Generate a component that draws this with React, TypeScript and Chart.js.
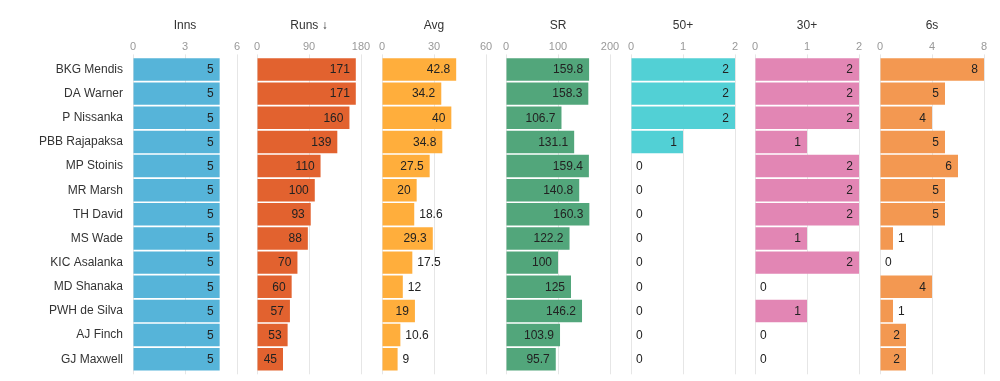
import React, { useEffect, useRef } from 'react';
import { Chart, registerables } from 'chart.js';

Chart.register(...registerables);

const players = [
  'BKG Mendis', 'DA Warner', 'P Nissanka', 'PBB Rajapaksa', 'MP Stoinis', 'MR Marsh',
  'TH David', 'MS Wade', 'KIC Asalanka', 'MD Shanaka', 'PWH de Silva', 'AJ Finch', 'GJ Maxwell',
];
const inns = [5, 5, 5, 5, 5, 5, 5, 5, 5, 5, 5, 5, 5];
const runs = [171, 171, 160, 139, 110, 100, 93, 88, 70, 60, 57, 53, 45];
const avg = [42.8, 34.2, 40, 34.8, 27.5, 20, 18.6, 29.3, 17.5, 12, 19, 10.6, 9];
const sr = [159.8, 158.3, 106.7, 131.1, 159.4, 140.8, 160.3, 122.2, 100, 125, 146.2, 103.9, 95.7];
const fifties = [2, 2, 2, 1, 0, 0, 0, 0, 0, 0, 0, 0, 0];
const thirties = [2, 2, 2, 1, 2, 2, 2, 1, 2, 0, 1, 0, 0];
const sixes = [8, 5, 4, 5, 6, 5, 5, 1, 0, 4, 1, 2, 2];

const panelTitles = ['Inns', 'Runs ↓', 'Avg', 'SR', '50+', '30+', '6s'];
const panelMax = [6, 180, 60, 200, 2, 2, 8];
const panelStep = [3, 90, 30, 100, 1, 1, 4];
const panelSeries = [inns, runs, avg, sr, fifties, thirties, sixes];

const panelColors = ['#56B4D9', '#E2622F', '#FFAE3C', '#52A67B', '#52D0D5', '#E286B4', '#F39851'];

// layout constants
const PANEL_LEFTS = [133, 257, 382, 506, 631, 755, 880];
const PANEL_W = 104;
const SIDE_PAD = 12;
const H = 381;
const AREA_TOP = 57.4;
const AREA_BOTTOM = 371.3;
const FONT = '"Liberation Sans", Arial, sans-serif';

const valueLabels = {
  id: 'valueLabels',
  afterDatasetsDraw(chart: any) {
    const ctx = chart.ctx;
    const meta = chart.getDatasetMeta(0);
    const data = chart.data.datasets[0].data;
    ctx.save();
    ctx.font = `12px ${FONT}`;
    ctx.fillStyle = '#222';
    ctx.textBaseline = 'middle';
    meta.data.forEach((bar: any, i: number) => {
      const txt = String(data[i]);
      const w = ctx.measureText(txt).width;
      const len = bar.x - bar.base;
      if (w + 12 < len) {
        ctx.textAlign = 'right';
        ctx.fillText(txt, bar.x - 6, bar.y + 0.5);
      } else {
        ctx.textAlign = 'left';
        ctx.fillText(txt, bar.x + 5, bar.y + 0.5);
      }
    });
    ctx.restore();
  },
};

function Panel({ index }: { index: number }) {
  const ref = useRef<HTMLCanvasElement>(null);
  const first = index === 0;
  const canvasLeft = first ? 0 : PANEL_LEFTS[index] - SIDE_PAD;
  const canvasW = first ? PANEL_LEFTS[0] + PANEL_W + SIDE_PAD : PANEL_W + 2 * SIDE_PAD;

  useEffect(() => {
    if (!ref.current) return;
    const gridColor = '#e6e6e6';
    const chart = new Chart(ref.current, {
      type: 'bar',
      data: {
        labels: players,
        datasets: [
          {
            data: panelSeries[index],
            backgroundColor: panelColors[index],
            borderWidth: 0,
            barPercentage: 0.93,
            categoryPercentage: 1,
            xAxisID: 'x',
            yAxisID: 'y',
          },
        ],
      },
      options: {
        indexAxis: 'y',
        animation: false,
        responsive: false,
        devicePixelRatio: 1,
        layout: {
          padding: {
            left: first ? 0 : SIDE_PAD,
            right: SIDE_PAD,
            top: 0,
            bottom: H - AREA_BOTTOM - 3,
          },
        },
        plugins: { legend: { display: false }, tooltip: { enabled: false }, title: { display: false } },
        scales: {
          x: {
            type: 'linear',
            position: 'top',
            min: 0,
            max: panelMax[index],
            ticks: { stepSize: panelStep[index], color: '#999', font: { size: 11, family: FONT }, padding: 1 },
            grid: { color: gridColor, tickLength: 3, drawTicks: true },
            border: { display: false },
            title: {
              display: true,
              text: panelTitles[index],
              color: '#333',
              font: { size: 12, family: FONT },
              padding: { top: 18, bottom: 0 },
            },
            afterFit: (s: any) => {
              s.height = AREA_TOP;
            },
          },
          x2: {
            type: 'linear',
            position: 'bottom',
            min: 0,
            max: panelMax[index],
            ticks: { stepSize: panelStep[index], display: false },
            grid: { color: gridColor, tickLength: 3, drawOnChartArea: false },
            border: { display: false },
            afterFit: (s: any) => {
              s.height = 3;
            },
          },
          y: {
            type: 'category',
            display: first,
            offset: true,
            ticks: { color: '#333', font: { size: 12, family: FONT }, padding: 0 },
            grid: { display: false, drawTicks: true, tickLength: 10 },
            border: { display: false },
            afterFit: (s: any) => {
              if (first) s.width = PANEL_LEFTS[0];
            },
          },
        },
      },
      plugins: [valueLabels],
    } as any);
    return () => chart.destroy();
  }, [index]);

  return (
    <canvas
      ref={ref}
      width={canvasW}
      height={H}
      style={{ position: 'absolute', left: canvasLeft, top: 0, width: canvasW, height: H }}
    />
  );
}

export default function App() {
  return (
    <div style={{ position: 'absolute', left: 0, top: 0, width: 1000, height: H, background: '#fff', overflow: 'hidden' }}>
      {panelTitles.map((_, i) => (
        <Panel key={i} index={i} />
      ))}
    </div>
  );
}
